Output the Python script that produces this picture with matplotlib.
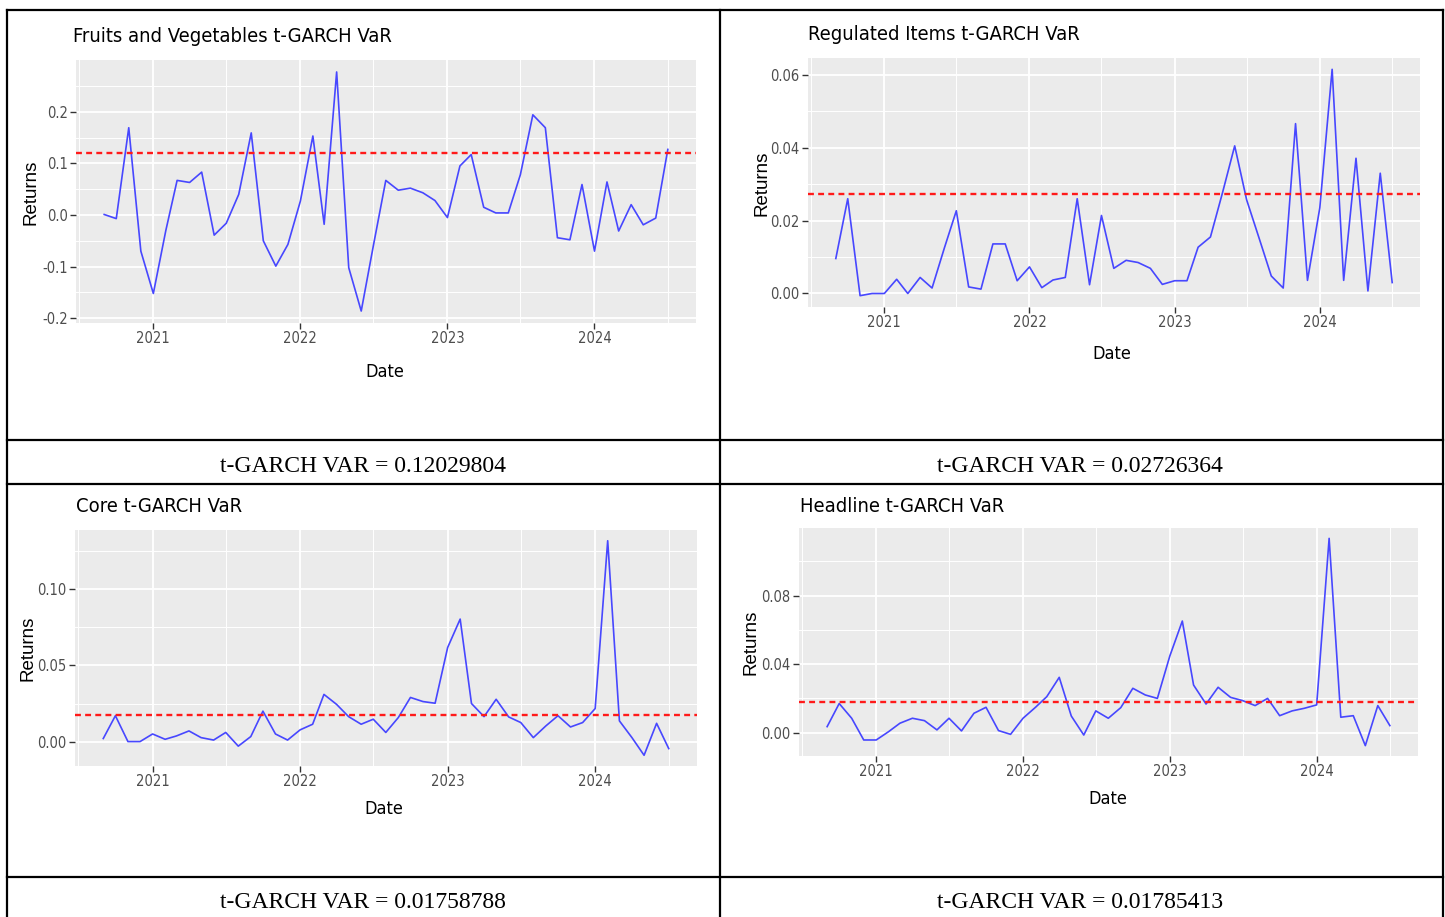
import matplotlib
matplotlib.use("Agg")
import matplotlib.pyplot as plt
import matplotlib.dates as mdates
import pandas as pd

# monthly observations Sep 2020 - Jul 2024
dates = pd.date_range("2020-09-01", periods=47, freq="MS")

fruits_veg = [0.001, -0.007, 0.169, -0.070, -0.152, -0.030, 0.067, 0.063, 0.083, -0.039,
              -0.016, 0.040, 0.159, -0.050, -0.099, -0.057, 0.027, 0.153, -0.018, 0.277,
              -0.102, -0.186, -0.060, 0.067, 0.048, 0.052, 0.043, 0.028, -0.005, 0.095,
              0.117, 0.015, 0.004, 0.004, 0.078, 0.194, 0.169, -0.044, -0.048, 0.059,
              -0.070, 0.064, -0.031, 0.020, -0.019, -0.006, 0.127]
regulated = [0.0096, 0.0260, -0.0006, 0.0000, 0.0000, 0.0039, 0.0000, 0.0044, 0.0015, 0.0125,
             0.0227, 0.0018, 0.0012, 0.0136, 0.0136, 0.0035, 0.0073, 0.0016, 0.0037, 0.0044,
             0.0260, 0.0024, 0.0214, 0.0069, 0.0091, 0.0085, 0.0069, 0.0025, 0.0035, 0.0035,
             0.0127, 0.0155, 0.0275, 0.0405, 0.0257, 0.0153, 0.0048, 0.0015, 0.0466, 0.0036,
             0.0235, 0.0615, 0.0036, 0.0371, 0.0007, 0.0330, 0.0030]
core = [0.0020, 0.0170, 0.0000, 0.0000, 0.0050, 0.0015, 0.0037, 0.0070, 0.0026, 0.0010,
        0.0060, -0.0030, 0.0033, 0.0200, 0.0050, 0.0010, 0.0077, 0.0114, 0.0310, 0.0245,
        0.0164, 0.0114, 0.0147, 0.0060, 0.0158, 0.0290, 0.0263, 0.0252, 0.0618, 0.0805,
        0.0250, 0.0164, 0.0278, 0.0162, 0.0125, 0.0026, 0.0103, 0.0170, 0.0096, 0.0125,
        0.0217, 0.1320, 0.0136, 0.0026, -0.0090, 0.0120, -0.0046]
headline = [0.0035, 0.0170, 0.0084, -0.0043, -0.0043, 0.0006, 0.0055, 0.0084, 0.0070, 0.0016,
            0.0084, 0.0010, 0.0113, 0.0148, 0.0012, -0.0010, 0.0084, 0.0148, 0.0210, 0.0323,
            0.0097, -0.0014, 0.0127, 0.0084, 0.0146, 0.0259, 0.0220, 0.0200, 0.0448, 0.0652,
            0.0278, 0.0167, 0.0265, 0.0206, 0.0187, 0.0158, 0.0200, 0.0099, 0.0127, 0.0142,
            0.0162, 0.1135, 0.0090, 0.0099, -0.0076, 0.0158, 0.0041]

titles = ["Fruits and Vegetables t-GARCH VaR", "Regulated Items t-GARCH VaR",
          "Core t-GARCH VaR", "Headline t-GARCH VaR"]
var_values = [0.12029804, 0.02726364, 0.01758788, 0.01785413]
captions = ["t-GARCH VAR = 0.12029804", "t-GARCH VAR = 0.02726364",
            "t-GARCH VAR = 0.01758788", "t-GARCH VAR = 0.01785413"]
series = [fruits_veg, regulated, core, headline]
major_y = [[-0.2, -0.1, 0.0, 0.1, 0.2], [0.0, 0.02, 0.04, 0.06],
           [0.0, 0.05, 0.10], [0.0, 0.04, 0.08]]
minor_y = [[-0.15, -0.05, 0.05, 0.15, 0.25], [0.01, 0.03, 0.05],
           [0.025, 0.075, 0.125], [0.02, 0.06, 0.10]]
y_fmt = ["{:.1f}", "{:.2f}", "{:.2f}", "{:.2f}"]

W, H = 1445, 917
# panel boxes in pixels: left, top, right, bottom
panels = [(76, 60, 696, 323), (808, 58, 1420, 307),
          (75, 530, 697, 766), (799, 528, 1418, 756)]
title_pos = [(73, 36), (808, 35), (76, 507), (800, 506)]
ylab_pos = [(31, 192), (762, 183), (28, 648), (751, 642)]
xlab_pos = [(385, 372), (1112, 354), (384, 809), (1108, 799)]
cap_pos = [(363, 467), (1080, 467), (363, 903), (1080, 903)]

cond = dict(family="DejaVu Sans", stretch="condensed")

fig = plt.figure(figsize=(W / 100, H / 100), dpi=100)

def fx(x):
    return x / W

def fy(y):
    return 1 - y / H

for i in range(4):
    l, t, r, b = panels[i]
    ax = fig.add_axes([fx(l), fy(b), (r - l) / W, (b - t) / H])
    ax.set_facecolor("#EBEBEB")
    for s in ax.spines.values():
        s.set_visible(False)
    ax.plot(dates, series[i], color="#4747FF", lw=1.2, zorder=3)
    ax.axhline(var_values[i], color="#FF1A1A", lw=1.7, ls=(0, (2.5, 1.8)), zorder=4)
    ax.margins(x=0.05, y=0.05)

    ax.xaxis.set_major_locator(mdates.YearLocator())
    ax.xaxis.set_minor_locator(mdates.MonthLocator(bymonth=7))
    ax.xaxis.set_major_formatter(mdates.DateFormatter("%Y"))
    ax.set_yticks(major_y[i])
    ax.set_yticks(minor_y[i], minor=True)
    ax.set_yticklabels([y_fmt[i].format(v) for v in major_y[i]])
    ax.grid(True, which="major", color="white", lw=1.3)
    ax.grid(True, which="minor", color="white", lw=0.7)
    ax.set_axisbelow(True)
    ax.tick_params(which="major", length=4, width=1, color="#333333",
                   labelcolor="#4D4D4D", labelsize=10.5, pad=2)
    ax.tick_params(which="minor", length=0)
    for lab in ax.get_xticklabels() + ax.get_yticklabels():
        lab.set_family("DejaVu Sans")
        lab.set_stretch("condensed")

    fig.text(fx(title_pos[i][0]), fy(title_pos[i][1]), titles[i], fontsize=14.5,
             ha="left", va="center", **cond)
    fig.text(fx(ylab_pos[i][0]), fy(ylab_pos[i][1]), "Returns", fontsize=13.5,
             family=["Liberation Sans", "DejaVu Sans"], rotation=90,
             ha="center", va="center")
    fig.text(fx(xlab_pos[i][0]), fy(xlab_pos[i][1]), "Date", fontsize=13,
             ha="center", va="center", **cond)
    fig.text(fx(cap_pos[i][0]), fy(cap_pos[i][1]), captions[i], fontsize=17,
             family=["Liberation Serif", "DejaVu Serif"], ha="center", va="center")

# table borders
lines_h = [(10, 7, 1443), (440, 7, 1443), (484, 7, 1443), (877, 7, 1443)]
lines_v = [(7, 10, 917), (720, 10, 917), (1443, 10, 917)]
for y, x0, x1 in lines_h:
    fig.add_artist(plt.Line2D([fx(x0), fx(x1)], [fy(y), fy(y)], color="black", lw=1.6))
for x, y0, y1 in lines_v:
    fig.add_artist(plt.Line2D([fx(x), fx(x)], [fy(y0), fy(y1)], color="black", lw=1.6))

fig.savefig("out.png", dpi=100)
